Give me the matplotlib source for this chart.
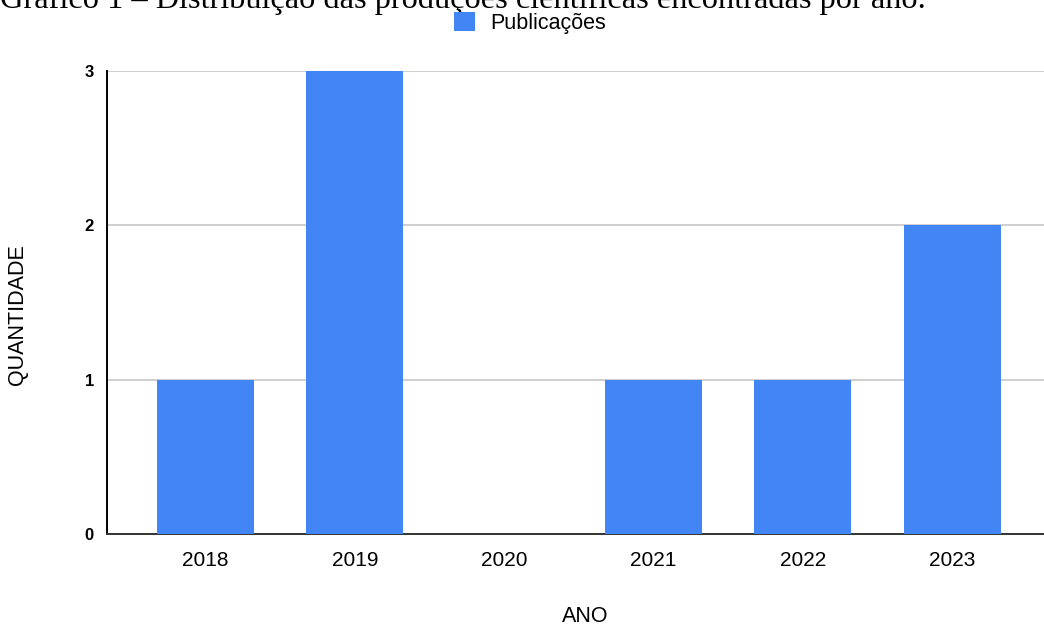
import matplotlib
matplotlib.use('Agg')
import matplotlib.pyplot as plt
import numpy as np

# Data
anos = ['2018', '2019', '2020', '2021', '2022', '2023']
publicacoes = [1, 3, 0, 1, 1, 2]

plt.rcParams['font.family'] = ['Liberation Sans', 'DejaVu Sans']

fig = plt.figure(figsize=(10.44, 6.26), dpi=100)
ax = fig.add_axes([107/1044, 1 - 534/626, 937/1044, 463/626])

x = np.arange(len(anos))
ax.bar(x, publicacoes, width=0.65, color='#4285F4', label='Publicações', zorder=3)

ax.set_xlim(-0.66, 5.616)
ax.set_ylim(0, 3)
ax.set_yticks([0, 1, 2, 3])
ax.set_yticklabels(['0', '1', '2', '3'], fontweight='bold', fontsize=12)
ax.set_xticks(x)
ax.set_xticklabels(anos, fontsize=15)
ax.tick_params(axis='both', length=0)
ax.tick_params(axis='x', pad=12)
ax.tick_params(axis='y', pad=9.5)
ax.grid(axis='y', color='#cccccc', linewidth=1.3, zorder=0)

for s in ['top', 'right']:
    ax.spines[s].set_visible(False)
ax.spines['left'].set_color('black')
ax.spines['left'].set_linewidth(1.4)
ax.spines['bottom'].set_color('#333333')
ax.spines['bottom'].set_linewidth(1.4)

# axis titles
fig.text(17.5/1044, 1 - 315/626, 'QUANTIDADE', fontsize=15.5, rotation=90,
         ha='center', va='center')
fig.text(585/1044, 1 - 622/626, 'ANO', fontsize=15.5, ha='center', va='baseline')

fig.legend(loc='center', bbox_to_anchor=(530/1044, 1 - 23/626), frameon=False,
           fontsize=15.5, handlelength=1.0, handleheight=1.0, handletextpad=0.7)

fig.text(0.0, 1 - 8/626, 'Gráfico 1 – Distribuição das produções científicas encontradas por ano.',
         family='Liberation Serif', fontsize=23.3, va='baseline', ha='left')

fig.savefig('out.png', dpi=100)
